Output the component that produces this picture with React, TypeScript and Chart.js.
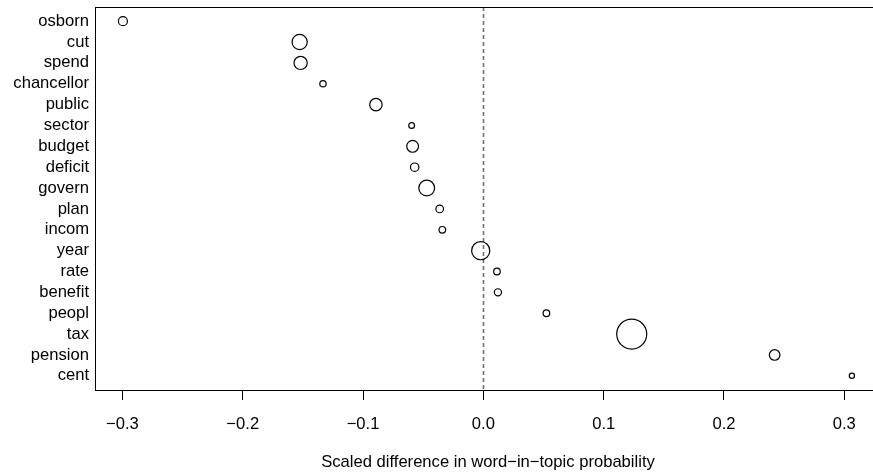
import React, { useEffect, useRef } from "react";
import { Chart, registerables } from "chart.js";

Chart.register(...registerables);

const words = [
  "osborn", "cut", "spend", "chancellor", "public", "sector", "budget", "deficit", "govern",
  "plan", "incom", "year", "rate", "benefit", "peopl", "tax", "pension", "cent",
];
const differences = [
  -0.2996, -0.1527, -0.1519, -0.1333, -0.0893, -0.0596, -0.0588, -0.0571, -0.0471,
  -0.0363, -0.0341, -0.0022, 0.0113, 0.0121, 0.0524, 0.1233, 0.2421, 0.3063,
];
const bubbleSizes = [
  4.5, 7.6, 6.6, 3.2, 6.2, 2.9, 5.9, 4.2, 7.9,
  3.8, 3.3, 9.1, 3.3, 3.6, 3.3, 15.0, 5.3, 2.6,
];
const xTicks = [-0.3, -0.2, -0.1, 0.0, 0.1, 0.2, 0.3];
const xTitle = "Scaled difference in word\u2212in\u2212topic probability";

const FONT = "'Liberation Sans', Arial, Helvetica, sans-serif";
const FS = 16.6;

const fmt = (v: number) => {
  const s = Math.abs(v).toFixed(1);
  return v < -1e-9 ? "\u2212" + s : s;
};

const framePlugin = {
  id: "frame",
  beforeDatasetsDraw(chart: any) {
    const { ctx, chartArea } = chart;
    const x0 = Math.round(chart.scales.x.getPixelForValue(0)) + 0.5;
    ctx.save();
    ctx.strokeStyle = "#707070";
    ctx.lineWidth = 1.6;
    ctx.setLineDash([4, 3]);
    ctx.beginPath();
    ctx.moveTo(x0, chartArea.top);
    ctx.lineTo(x0, chartArea.bottom);
    ctx.stroke();
    ctx.restore();
  },
  afterDraw(chart: any) {
    const { ctx, chartArea } = chart;
    ctx.save();
    ctx.strokeStyle = "#000";
    ctx.lineWidth = 1;
    ctx.strokeRect(
      chartArea.left + 0.5,
      chartArea.top + 0.5,
      chartArea.right - chartArea.left,
      chartArea.bottom - chartArea.top
    );
    ctx.restore();
  },
};

export default function App() {
  const ref = useRef<HTMLCanvasElement>(null);
  useEffect(() => {
    if (!ref.current) return;
    const chart = new Chart(ref.current, {
      type: "bubble",
      data: {
        datasets: [
          {
            data: words.map((_, i) => ({ x: differences[i], y: i + 1, r: bubbleSizes[i] })),
            backgroundColor: "rgba(0,0,0,0)",
            borderColor: "#000",
            borderWidth: 1.2,
            clip: false,
          },
        ],
      },
      options: {
        responsive: false,
        animation: false,
        events: [],
        devicePixelRatio: 1,
        layout: { autoPadding: false, padding: { top: 7, left: 0, right: 19, bottom: 0 } },
        plugins: { legend: { display: false }, tooltip: { enabled: false } },
        scales: {
          x: {
            type: "linear",
            min: -0.3228,
            max: 0.3305,
            afterBuildTicks: (s: any) => {
              s.ticks = xTicks.map((v) => ({ value: v }));
            },
            afterFit: (s: any) => {
              s.height = 84;
              s.paddingLeft = 0;
              s.paddingRight = 0;
            },
            border: { display: false },
            grid: {
              display: true,
              drawOnChartArea: false,
              drawTicks: true,
              tickLength: 10,
              color: "#000",
              lineWidth: 1,
            },
            ticks: {
              padding: 14,
              color: "#000",
              font: { family: FONT, size: FS },
              maxRotation: 0,
              autoSkip: false,
              callback: (v: any) => fmt(Number(v)),
            },
            title: {
              display: true,
              text: xTitle,
              color: "#000",
              font: { family: FONT, size: FS },
              padding: { top: 0, bottom: 2 },
            },
          },
          y: {
            type: "linear",
            reverse: true,
            min: 0.32,
            max: 18.68,
            afterBuildTicks: (s: any) => {
              s.ticks = words.map((_, i) => ({ value: i + 1 }));
            },
            afterFit: (s: any) => {
              s.width = 95;
              s.paddingTop = 0;
              s.paddingBottom = 0;
            },
            border: { display: false },
            grid: { display: false, drawTicks: false },
            ticks: {
              padding: 6,
              color: "#000",
              font: { family: FONT, size: FS },
              autoSkip: false,
              callback: (v: any) => words[Math.round(Number(v)) - 1] ?? "",
            },
          },
        },
      },
      plugins: [framePlugin],
    } as any);
    return () => chart.destroy();
  }, []);
  return (
    <div
      style={{
        position: "fixed",
        left: 0,
        top: 0,
        width: 873,
        height: 474,
        overflow: "hidden",
        background: "#fff",
      }}
    >
      <canvas ref={ref} width={900} height={474} style={{ display: "block" }} />
    </div>
  );
}
